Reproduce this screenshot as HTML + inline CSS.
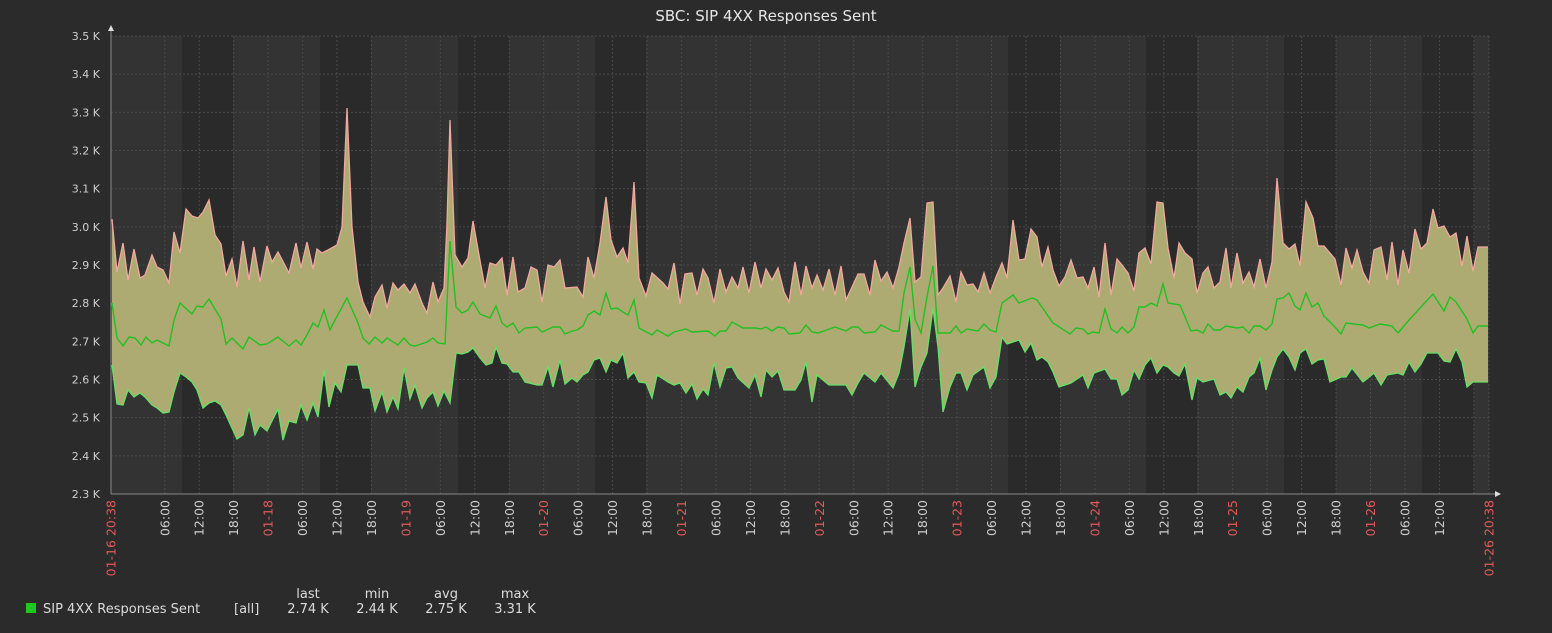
<!DOCTYPE html>
<html><head><meta charset="utf-8"><style>
html,body{margin:0;padding:0;background:#2b2b2b;}
svg{display:block;}
text{font-family:"DejaVu Sans","Liberation Sans",sans-serif;}
</style></head><body>
<svg id="s" width="1552" height="633" viewBox="0 0 1552 633" xmlns="http://www.w3.org/2000/svg">
<rect width="1552" height="633" fill="#2b2b2b"/>
<g id="bg"></g><g id="grid"></g><g id="data"></g><g id="axes"></g>
<text x="766" y="21" fill="#e6e6e6" font-size="15" text-anchor="middle">SBC: SIP 4XX Responses Sent</text>
<rect x="26" y="603" width="10" height="10" fill="#1fc81f"/>
<text x="43" y="613" fill="#dcdcdc" font-size="13">SIP 4XX Responses Sent</text>
<text x="234" y="613" fill="#dcdcdc" font-size="13">[all]</text>
<g fill="#dcdcdc" font-size="13" text-anchor="middle">
<text x="308" y="598">last</text><text x="377" y="598">min</text><text x="446" y="598">avg</text><text x="515" y="598">max</text>
<text x="308" y="613">2.74 K</text><text x="377" y="613">2.44 K</text><text x="446" y="613">2.75 K</text><text x="515" y="613">3.31 K</text>
</g>
</svg>
<script>
const NS="http://www.w3.org/2000/svg";
function el(p,t,a,txt){const e=document.createElementNS(NS,t);for(const k in a)e.setAttribute(k,a[k]);if(txt!==undefined)e.textContent=txt;p.appendChild(e);return e;}
const X0=111,X1=1489,Y0=36,Y1=494;
const bg=document.getElementById('bg'),grid=document.getElementById('grid'),data=document.getElementById('data'),axes=document.getElementById('axes');
el(bg,'rect',{x:X0,y:Y0,width:X1-X0,height:Y1-Y0,fill:'#333333'});
[[182,233],[320,371],[458,509],[595,646],[1008,1060],[1146,1197],[1284,1336],[1422,1474]].forEach(b=>el(bg,'rect',{x:b[0],y:Y0,width:b[1]-b[0],height:Y1-Y0,fill:'#2a2a2a'}));
const labs=['3.5 K','3.4 K','3.3 K','3.2 K','3.1 K','3.0 K','2.9 K','2.8 K','2.7 K','2.6 K','2.5 K','2.4 K','2.3 K'];
for(let i=0;i<13;i++){const y=Y0+i*(Y1-Y0)/12;
 if(i<12)el(grid,'line',{x1:X0,x2:X1,y1:y,y2:y,stroke:'#4a4a4a','stroke-dasharray':'2,2','stroke-width':1});
 el(axes,'text',{x:100,y:y+4,fill:'#cfcfcf','font-size':11,'text-anchor':'end'},labs[i]);}
function vlab(x,t,c){el(axes,'text',{x:x+4.5,y:500,fill:c,'font-size':12.5,'text-anchor':'end',transform:`rotate(-90 ${x+4.5} 500)`},t);}
for(let k=0;;k++){const x=130.3+34.45*k;if(x>=X1)break;
 if(k>0)el(grid,'line',{x1:x,x2:x,y1:Y0,y2:Y1,stroke:'#4a4a4a','stroke-dasharray':'2,2','stroke-width':1});
 if(x-X0<25||X1-x<25)continue;
 const h=(k*6)%24;
 if(h===0){const d=17+k/4;vlab(x,'01-'+d,'#e05a5a');} else vlab(x,(h<10?'0':'')+h+':00','#cfcfcf');}
vlab(X0,'01-16 20:38','#e05a5a');vlab(X1,'01-26 20:38','#e05a5a');
el(grid,'line',{x1:X1,x2:X1,y1:Y0,y2:Y1,stroke:'#4a4a4a','stroke-dasharray':'2,2'});
const MAX="112,219 117,272 123,243 128,280 134,249 140,278 145,275 152,255 157,267 163,270 169,283 174,232 180,253 186,209 192,216 198,218 203,212 209,200 215,235 221,244 226,276 232,259 237,287 243,241 249,280 254,247 260,282 267,246 272,262 278,252 289,273 296,243 301,268 307,242 313,269 317,249 322,253 328,250 337,245 342,227 347,108 352,227 358,282 363,302 370,317 375,297 382,285 387,308 393,283 398,290 404,284 410,293 415,284 422,303 427,313 433,282 438,302 444,288 447,223 450,120 455,255 462,267 468,258 473,221 479,255 485,288 490,263 496,265 502,258 507,295 513,257 518,292 525,288 531,267 537,270 542,302 548,265 554,267 560,260 565,288 577,287 583,297 588,257 594,278 600,243 606,197 611,240 617,257 623,248 628,263 634,182 639,278 646,296 652,273 663,283 668,289 674,263 680,304 685,274 692,273 697,295 703,269 708,278 714,303 720,269 726,292 732,277 738,288 743,267 749,293 755,262 761,288 766,269 772,280 778,268 784,292 789,302 795,262 801,295 806,266 812,288 817,275 823,290 829,269 835,295 841,266 846,300 852,287 858,274 864,274 870,295 875,260 881,281 887,272 893,288 899,267 904,243 910,218 915,282 921,277 927,203 933,202 938,295 943,288 950,276 956,302 961,272 967,285 973,284 978,292 984,273 990,293 996,277 1002,263 1007,278 1013,220 1019,260 1025,259 1031,229 1037,237 1042,267 1048,247 1053,270 1059,286 1065,277 1071,260 1077,278 1083,277 1088,288 1094,267 1099,297 1105,243 1111,295 1117,259 1122,265 1128,273 1134,291 1139,253 1145,248 1151,264 1157,202 1163,203 1168,248 1174,278 1179,243 1185,253 1192,259 1197,293 1203,273 1208,267 1214,288 1220,282 1226,248 1231,288 1237,253 1243,283 1249,272 1254,287 1260,259 1266,288 1272,262 1277,178 1283,243 1289,249 1295,244 1300,266 1306,202 1313,218 1318,246 1324,246 1335,259 1341,285 1346,248 1352,268 1357,250 1363,272 1369,283 1374,250 1381,247 1387,280 1392,242 1398,285 1403,250 1409,273 1415,229 1421,249 1427,243 1433,209 1438,228 1444,226 1450,237 1456,233 1462,266 1467,236 1473,271 1478,247 1488,247";
const AVG="112,303 117,338 123,346 129,337 135,338 141,345 146,337 152,343 157,340 169,346 174,320 180,303 192,314 197,306 203,307 209,299 221,319 226,344 232,338 243,349 249,337 260,345 267,344 278,337 289,346 296,340 301,345 307,335 313,323 318,327 324,310 330,330 335,320 347,298 358,323 363,338 369,344 375,337 382,343 387,338 398,345 404,338 410,345 415,346 427,342 433,338 438,343 445,344 450,241 456,307 462,313 468,310 473,302 480,314 490,318 496,306 502,323 507,327 513,323 519,333 525,328 537,327 542,332 553,327 560,327 565,334 572,331 577,330 583,326 588,315 594,311 600,315 606,293 611,309 617,308 623,312 628,315 634,300 639,328 652,335 657,330 668,336 674,332 686,329 692,332 708,331 715,336 720,331 726,331 732,322 743,328 755,328 761,329 766,327 772,331 778,327 784,328 789,334 800,333 806,325 812,332 818,333 835,327 846,331 852,327 858,327 864,333 875,332 881,325 893,331 899,331 904,293 910,267 915,319 921,333 927,297 933,266 938,333 950,333 956,326 961,333 967,329 978,331 984,324 990,330 996,332 1002,303 1013,295 1019,303 1032,298 1037,300 1053,323 1070,334 1076,328 1083,329 1088,334 1093,332 1099,333 1105,309 1111,329 1117,333 1122,327 1128,333 1134,327 1139,307 1145,307 1151,303 1157,306 1163,284 1168,303 1180,305 1191,331 1197,330 1203,333 1208,324 1214,330 1220,330 1226,326 1237,328 1243,327 1249,333 1254,326 1260,326 1266,330 1272,324 1277,299 1283,298 1289,293 1295,306 1300,310 1306,293 1312,307 1318,303 1324,316 1335,327 1341,334 1346,323 1363,325 1369,328 1380,324 1392,326 1398,333 1409,320 1421,307 1433,294 1444,311 1450,297 1456,302 1467,319 1473,333 1478,326 1488,326";
const MIN="112,365 117,404 123,405 128,390 134,397 140,393 145,397 152,405 157,408 163,413 169,412 174,392 180,373 186,377 192,382 197,390 203,408 209,403 215,401 221,405 226,415 237,439 243,435 249,408 255,435 260,425 267,431 278,409 283,440 289,421 296,423 301,405 307,420 313,403 318,417 324,370 329,407 335,383 341,392 347,365 358,365 363,388 370,388 375,411 382,392 387,412 393,397 398,409 404,368 410,399 415,385 422,408 427,398 433,392 438,406 444,391 450,403 456,353 462,354 468,352 473,348 480,358 486,365 492,363 496,347 502,363 507,364 513,372 519,372 525,382 537,385 542,385 548,367 553,387 560,360 565,384 572,378 577,382 583,375 588,372 594,360 600,358 606,372 611,360 617,363 623,353 628,378 634,372 639,382 646,383 652,398 657,375 668,382 674,385 680,383 686,393 692,384 697,399 703,389 708,395 714,363 720,387 726,368 732,367 738,378 749,388 755,375 761,397 766,370 772,377 778,371 784,390 795,390 801,380 806,362 812,402 817,375 829,385 846,385 852,395 858,383 864,373 875,382 881,373 893,388 899,373 904,347 910,309 915,387 921,367 927,353 933,308 938,347 943,412 950,387 956,373 961,373 967,390 973,375 984,367 990,388 996,377 1002,337 1007,344 1019,340 1025,352 1031,343 1037,360 1042,357 1048,362 1053,372 1059,387 1071,383 1083,375 1088,388 1094,373 1105,369 1111,379 1117,379 1122,395 1128,390 1134,370 1139,379 1145,365 1151,358 1157,373 1163,365 1168,367 1174,373 1179,376 1185,364 1192,400 1197,378 1203,382 1214,379 1220,395 1226,392 1231,398 1237,387 1243,392 1249,377 1254,373 1260,358 1266,390 1272,370 1277,357 1283,349 1289,357 1295,370 1300,353 1306,349 1312,364 1318,360 1324,359 1330,382 1341,377 1346,377 1352,368 1363,382 1374,373 1381,385 1387,375 1398,373 1403,375 1409,362 1415,372 1421,364 1427,353 1438,353 1444,361 1450,362 1456,349 1462,362 1467,387 1473,382 1488,382";
const minRev=MIN.split(' ').reverse().join(' ');
el(data,'polygon',{points:MAX+' '+minRev,fill:'#aeab72'});
el(data,'polyline',{points:MAX,fill:'none',stroke:'#f0a8a0','stroke-width':1.3});
el(data,'polyline',{points:MIN,fill:'none',stroke:'#66e066','stroke-width':1.3});
el(data,'polyline',{points:AVG,fill:'none',stroke:'#22c022','stroke-width':1.4});
el(axes,'line',{x1:X0,x2:X0,y1:30,y2:Y1,stroke:'#888','stroke-width':1});
el(axes,'line',{x1:X0,x2:1495,y1:Y1,y2:Y1,stroke:'#888','stroke-width':1});
el(axes,'polygon',{points:`${X0-3},31 ${X0+3},31 ${X0},25`,fill:'#ddd'});
el(axes,'polygon',{points:`1495,${Y1-3} 1495,${Y1+3} 1501,${Y1}`,fill:'#ddd'});
</script>
</body></html>
